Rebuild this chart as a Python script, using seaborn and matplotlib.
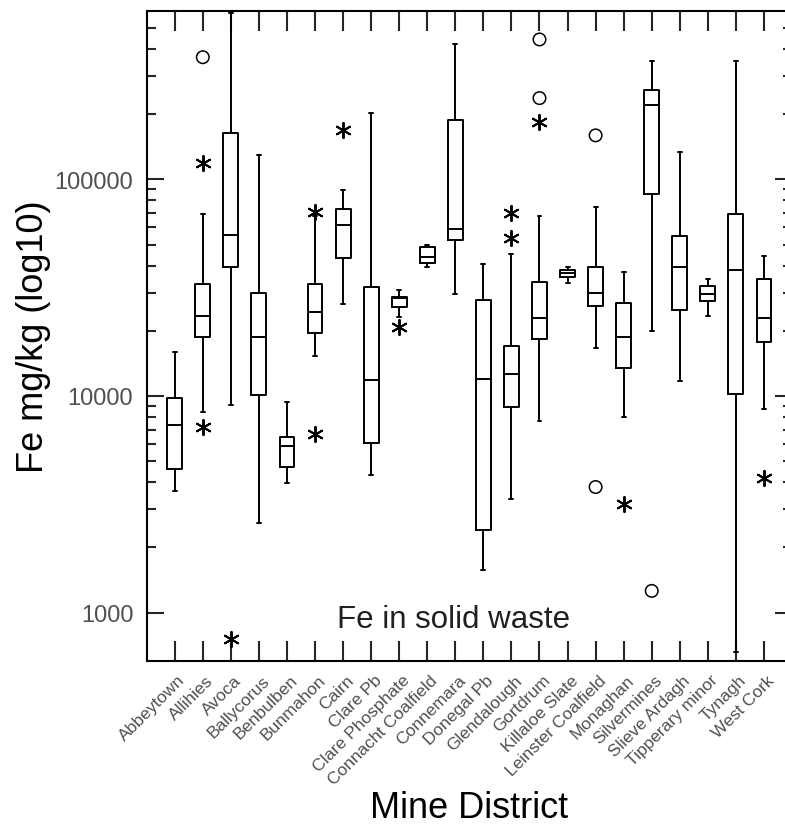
import numpy as np
import pandas as pd
import seaborn as sns
import matplotlib.pyplot as plt
from matplotlib import ticker, transforms

districts = ["Abbeytown", "Allihies", "Avoca", "Ballycorus", "Benbulben", "Bunmahon",
             "Cairn", "Clare Pb", "Clare Phosphate", "Connacht Coalfield", "Connemara",
             "Donegal Pb", "Glendalough", "Gortdrum", "Killaloe Slate", "Leinster Coalfield",
             "Monaghan", "Silvermines", "Slieve Ardagh", "Tipperary minor", "Tynagh", "West Cork"]

# five-number summaries (mg/kg)
whisker_lo = [3650, 8400, 9100, 2600, 3950, 15300, 26500, 4300, 23200, 39400, 29400,
              1570, 3350, 7700, 33300, 16600, 8000, 19900, 11700, 23400, 660, 8700]
q1 = [4600, 18800, 39400, 10100, 4700, 19600, 43100, 6050, 25800, 41300, 52400,
      2400, 8900, 18400, 35400, 26000, 13400, 85300, 24900, 27500, 10200, 17700]
median = [7350, 23400, 55600, 18800, 5850, 24300, 61800, 11800, 28200, 43800, 59000,
          12000, 12600, 22800, 36800, 30000, 18800, 221000, 39400, 29400, 38100, 22800]
q3 = [9750, 32700, 164000, 30000, 6500, 32700, 73300, 31900, 28700, 48700, 187000,
      27700, 17000, 33400, 38100, 39400, 27000, 257000, 54600, 32200, 68800, 34800]
whisker_hi = [15900, 68800, 585000, 130000, 9350, 68000, 89000, 203000, 30800, 50000, 422000,
              40500, 45000, 67500, 39400, 74500, 37400, 353000, 133000, 34800, 353000, 44200]

# far outside values (circles) and outside values (asterisks)
far_district = ["Allihies", "Gortdrum", "Gortdrum", "Leinster Coalfield", "Leinster Coalfield", "Silvermines"]
far_value = [366000, 442000, 237000, 159500, 3800, 1260]
near_district = ["Allihies", "Allihies", "Avoca", "Bunmahon", "Bunmahon", "Cairn", "Clare Phosphate",
                 "Glendalough", "Glendalough", "Gortdrum", "Monaghan", "West Cork"]
near_value = [119000, 7200, 755, 70700, 6700, 168000, 20900, 70200, 53800, 184000, 3180, 4200]

box_df = pd.DataFrame({
    "district": np.repeat(districts, 5),
    "fe": np.column_stack([whisker_lo, q1, median, q3, whisker_hi]).ravel(),
})

sns.set_style("white")
plt.rcParams['font.family'] = ['Liberation Sans', 'DejaVu Sans']

fig = plt.figure(figsize=(7.85, 8.28), dpi=100)
ax = fig.add_axes([146.7 / 785, (828 - 661.7) / 828, 645.3 / 785, 650 / 828])

sns.boxplot(data=box_df, x="district", y="fe", order=districts, whis=(0, 100),
            width=0.53, fill=False, color="black", linewidth=1.4, log_scale=True,
            showfliers=False, capwidths=0.14, ax=ax)
sns.stripplot(x=far_district, y=far_value, order=districts, jitter=False, marker="o",
              size=9, color="black", facecolor="none", edgecolor="black", linewidth=1.1, ax=ax)
sns.stripplot(x=near_district, y=near_value, order=districts, jitter=False, marker=(6, 2, 0),
              size=11, color="black", edgecolor="black", linewidth=1.4, ax=ax)

ax.set_xlim(-1, 22)
ax.set_ylim(600, 600000)

ax.yaxis.set_major_locator(ticker.FixedLocator([1000, 10000, 100000]))
ax.yaxis.set_major_formatter(ticker.FuncFormatter(lambda v, p: f"{v:.0f}"))
minor = [m * 10 ** e for e in (3, 4, 5) for m in range(2, 10) if m * 10 ** e < 600000]
ax.yaxis.set_minor_locator(ticker.FixedLocator(minor))
ax.yaxis.set_minor_formatter(ticker.NullFormatter())

ax.tick_params(axis="x", direction="in", length=14.4, width=1.5, top=True, bottom=True,
               labelsize=12.5, labelcolor="#505050", pad=12)
ax.tick_params(axis="y", which="major", direction="in", length=12.2, width=1.5,
               left=True, right=True, labelsize=17, labelcolor="#505050", pad=9.6)
ax.tick_params(axis="y", which="minor", direction="in", length=6.5, width=1.5,
               left=True, right=True)
for sp in ax.spines.values():
    sp.set_linewidth(1.5)
    sp.set_color("black")

ax.set_xticks(range(len(districts)))
ax.set_xticklabels(districts, rotation=45, ha="right", va="center", rotation_mode="anchor")
# nudge the slanted labels a little to the right of their ticks
shift = transforms.ScaledTranslation(8 / 100, 0, fig.dpi_scale_trans)
for lab in ax.get_xticklabels():
    lab.set_transform(lab.get_transform() + shift)

ax.set_xlabel("Mine District", fontsize=26, color="black")
ax.xaxis.set_label_coords(0.5, -0.199)
ax.set_ylabel("Fe mg/kg (log10)", fontsize=26, color="black")
ax.yaxis.set_label_coords(-0.148, 0.5)

ax.text(0.475, 0.0514, "Fe in solid waste", transform=ax.transAxes, ha="center",
        va="baseline", fontsize=22.5, color="#202020")

fig.savefig("out.png", dpi=100)
